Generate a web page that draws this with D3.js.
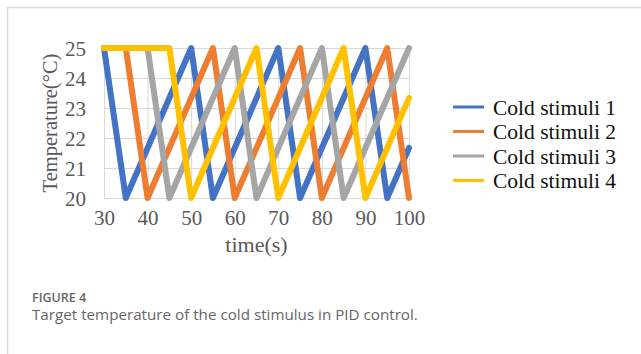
<!DOCTYPE html>
<html>
<head>
<meta charset="utf-8">
<script src="https://cdn.jsdelivr.net/npm/d3@7"></script>
<style>
  body { margin: 0; background: #fff; }
  svg text { font-family: "Liberation Serif", "Times New Roman", serif; }
</style>
</head>
<body>
<svg id="vis"></svg>
<script>
const WIDTH = 641;
const HEIGHT = 354;

// datos (tiempo en s, temperatura en °C)
const SERIES_NAMES = ["Cold stimuli 1", "Cold stimuli 2", "Cold stimuli 3", "Cold stimuli 4"];
const COLORS = ["#4472C4", "#ED7D31", "#A5A5A5", "#FFC000"];

const stimuli1 = [[30, 25], [35, 20], [50, 25], [55, 20], [70, 25], [75, 20], [90, 25], [95, 20], [100, 21.67]];
const stimuli2 = [[30, 25], [35, 25], [40, 20], [55, 25], [60, 20], [75, 25], [80, 20], [95, 25], [100, 20]];
const stimuli3 = [[30, 25], [40, 25], [45, 20], [60, 25], [65, 20], [80, 25], [85, 20], [100, 25]];
const stimuli4 = [[30, 25], [45, 25], [50, 20], [65, 25], [70, 20], [85, 25], [90, 20], [100, 23.33]];

const X_TICKS = [30, 40, 50, 60, 70, 80, 90, 100];
const Y_TICKS = [20, 21, 22, 23, 24, 25];

const svg = d3.select("#vis").attr("width", WIDTH).attr("height", HEIGHT);

// marco del figure
svg.append("path")
  .attr("d", `M7.5,${HEIGHT} V7.5 H${WIDTH}`)
  .attr("fill", "none")
  .attr("stroke", "#d9d9d9")
  .attr("stroke-width", 1.5);

const MARGIN = { top: 48, left: 104 };
const WIDTHVIS = 305;
const HEIGHTVIS = 150;

const contenedor = svg.append("g")
  .attr("transform", `translate(${MARGIN.left} ${MARGIN.top})`);

const escalaX = d3.scaleLinear().domain([30, 100]).range([0, WIDTHVIS]);
const escalaY = d3.scaleLinear().domain([20, 25]).range([HEIGHTVIS, 0]);

// grilla
const ejeX = d3.axisBottom(escalaX).tickValues(X_TICKS).tickFormat(d3.format("d"))
  .tickSize(-HEIGHTVIS).tickPadding(12);
const ejeY = d3.axisLeft(escalaY).tickValues(Y_TICKS).tickFormat(d3.format("d"))
  .tickSize(-WIDTHVIS).tickPadding(18);

const gx = contenedor.append("g")
  .attr("transform", `translate(0, ${HEIGHTVIS})`)
  .call(ejeX);
const gy = contenedor.append("g").call(ejeY);

[gx, gy].forEach((g) => {
  g.attr("font-size", null).attr("font-family", null);
  g.select(".domain").remove();
  g.selectAll("line").attr("stroke", "#d9d9d9").attr("stroke-width", 1);
  g.selectAll("text")
    .attr("fill", "#595959")
    .style("font-size", "21px");
});
gy.selectAll("text").attr("dy", "0.35em");

// lineas
const series = [stimuli1, stimuli2, stimuli3, stimuli4];
const linea = d3.line()
  .x((d) => escalaX(d[0]))
  .y((d) => escalaY(d[1]));

contenedor.selectAll("path.serie")
  .data(series)
  .join("path")
  .attr("class", "serie")
  .attr("d", linea)
  .attr("fill", "none")
  .attr("stroke", (_, i) => COLORS[i])
  .attr("stroke-width", 6)
  .attr("stroke-linejoin", "round")
  .attr("stroke-linecap", "round");

// titulos de ejes
svg.append("text")
  .attr("x", MARGIN.left + WIDTHVIS / 2)
  .attr("y", 252)
  .attr("text-anchor", "middle")
  .attr("fill", "#595959")
  .style("font-size", "22px")
  .text("time(s)");

svg.append("text")
  .attr("transform", `translate(57, ${MARGIN.top + HEIGHTVIS / 2}) rotate(-90)`)
  .attr("text-anchor", "middle")
  .attr("fill", "#595959")
  .style("font-size", "20.5px")
  .text("Temperature(°C)");

// leyenda
const leyenda = svg.append("g").attr("transform", "translate(453, 107)");
leyenda.selectAll("line")
  .data(SERIES_NAMES)
  .join("line")
  .attr("x1", 0)
  .attr("x2", 31)
  .attr("y1", (_, i) => i * 24.5)
  .attr("y2", (_, i) => i * 24.5)
  .attr("stroke", (_, i) => COLORS[i])
  .attr("stroke-width", 3);
leyenda.selectAll("text")
  .data(SERIES_NAMES)
  .join("text")
  .attr("x", 40)
  .attr("y", (_, i) => i * 24.5)
  .attr("dy", "0.35em")
  .attr("fill", "#111")
  .style("font-size", "21.5px")
  .text((d) => d);

// pie de figura
svg.append("text")
  .attr("x", 32)
  .attr("y", 302)
  .attr("fill", "#666")
  .style("font-family", '"Open Sans", sans-serif')
  .style("font-size", "12.5px")
  .style("font-weight", "600")
  .text("FIGURE 4");
svg.append("text")
  .attr("x", 32)
  .attr("y", 320)
  .attr("fill", "#666")
  .style("font-family", '"Open Sans", sans-serif')
  .style("font-size", "15.2px")
  .text("Target temperature of the cold stimulus in PID control.");
</script>
</body>
</html>
